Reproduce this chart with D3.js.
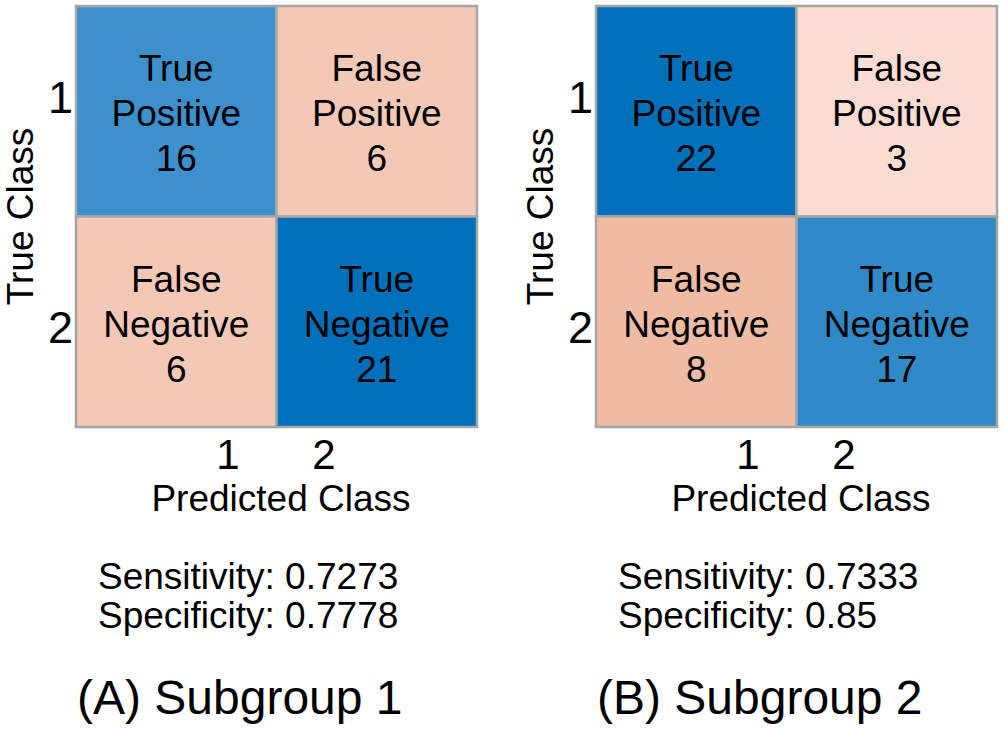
<!DOCTYPE html>
<html>
<head>
<meta charset="utf-8">
<script src="https://cdn.jsdelivr.net/npm/d3@7"></script>
<style>
  html, body { margin: 0; padding: 0; background: #fff; }
  svg { display: block; }
  text { font-family: "Liberation Sans", Arial, Helvetica, sans-serif; fill: #000; }
</style>
</head>
<body>
<svg id="chart" width="1004" height="729"></svg>
<script>
// ---- data ----
const classes = [1, 2];
const panelTitles = ["(A) Subgroup 1", "(B) Subgroup 2"];
// counts [row = true class][col = predicted class]
const countsA = [[16, 6], [6, 21]];
const countsB = [[22, 3], [8, 17]];
const cellNames = [["True\nPositive", "False\nPositive"], ["False\nNegative", "True\nNegative"]];
const sensitivity = ["0.7273", "0.7333"];
const specificity = ["0.7778", "0.85"];
const tickLabels = ["1", "2"];
const axisTitleX = "Predicted Class";
const axisTitleY = "True Class";

const panels = [
  { title: panelTitles[0], counts: countsA, sens: sensitivity[0], spec: specificity[0] },
  { title: panelTitles[1], counts: countsB, sens: sensitivity[1], spec: specificity[1] }
];

// ---- colour scales ----
const diagColor = d3.scaleLinear().domain([16, 21]).range(["#3c90cc", "#0070ba"]).clamp(true);
const offColor = d3.scaleLinear().domain([3, 8]).range(["#fadcd2", "#f0bba3"]).clamp(true);

const svg = d3.select("#chart");

const gridW = 401, gridH = 421, gridTop = 6;
const panelX = d3.scaleOrdinal().domain([0, 1]).range([76, 596]);

panels.forEach((p, pi) => {
  const gx = panelX(pi);
  const g = svg.append("g");

  const x = d3.scaleBand().domain(classes).range([gx, gx + gridW]);
  const y = d3.scaleBand().domain(classes).range([gridTop, gridTop + gridH]);

  const cells = [];
  classes.forEach((r, ri) => classes.forEach((c, ci) => {
    cells.push({ r, c, v: p.counts[ri][ci], name: cellNames[ri][ci], diag: ri === ci });
  }));

  g.selectAll("rect.cell").data(cells).join("rect")
    .attr("class", "cell")
    .attr("x", d => x(d.c))
    .attr("y", d => y(d.r))
    .attr("width", x.bandwidth())
    .attr("height", y.bandwidth())
    .attr("fill", d => d.diag ? diagColor(d.v) : offColor(d.v))
    .attr("stroke", "#a6a6a6")
    .attr("stroke-width", 2.5);

  const cellText = g.selectAll("text.cellText").data(cells).join("text")
    .attr("class", "cellText")
    .attr("text-anchor", "middle")
    .attr("font-size", 37);
  cellText.each(function (d) {
    const t = d3.select(this);
    const cx = x(d.c) + x.bandwidth() / 2;
    const cy = y(d.r) + y.bandwidth() / 2;
    const lines = d.name.split("\n").concat([String(d.v)]);
    lines.forEach((ln, i) => {
      t.append("tspan").attr("x", cx).attr("y", cy - 30 + i * 45).text(ln);
    });
  });

  // tick labels
  const xt = d3.scaleLinear().domain([1, 2]).range([gx + 152, gx + 248]);
  const yt = d3.scaleLinear().domain([1, 2]).range([gridTop + 107, gridTop + 337]);

  g.selectAll("text.xtick").data(classes).join("text")
    .attr("class", "xtick")
    .attr("x", d => xt(d))
    .attr("y", 469)
    .attr("text-anchor", "middle")
    .attr("font-size", 42)
    .text((d, i) => tickLabels[i]);

  g.selectAll("text.ytick").data(classes).join("text")
    .attr("class", "ytick")
    .attr("x", gx - 3)
    .attr("y", d => yt(d))
    .attr("text-anchor", "end")
    .attr("font-size", 45)
    .text((d, i) => tickLabels[i]);

  // axis titles
  g.append("text")
    .attr("x", gx + 205)
    .attr("y", 511)
    .attr("text-anchor", "middle")
    .attr("font-size", 37)
    .text(axisTitleX);

  g.append("text")
    .attr("transform", `translate(${gx - 43},${gridTop + gridH / 2}) rotate(-90)`)
    .attr("text-anchor", "middle")
    .attr("font-size", 37)
    .text(axisTitleY);

  // metrics
  g.append("text")
    .attr("x", gx + 22)
    .attr("y", 589)
    .attr("font-size", 37)
    .text("Sensitivity: " + p.sens);
  g.append("text")
    .attr("x", gx + 22)
    .attr("y", 628)
    .attr("font-size", 37)
    .text("Specificity: " + p.spec);

  // panel title
  g.append("text")
    .attr("x", gx + 1)
    .attr("y", 714)
    .attr("font-size", 48)
    .text(p.title);
});
</script>
</body>
</html>
